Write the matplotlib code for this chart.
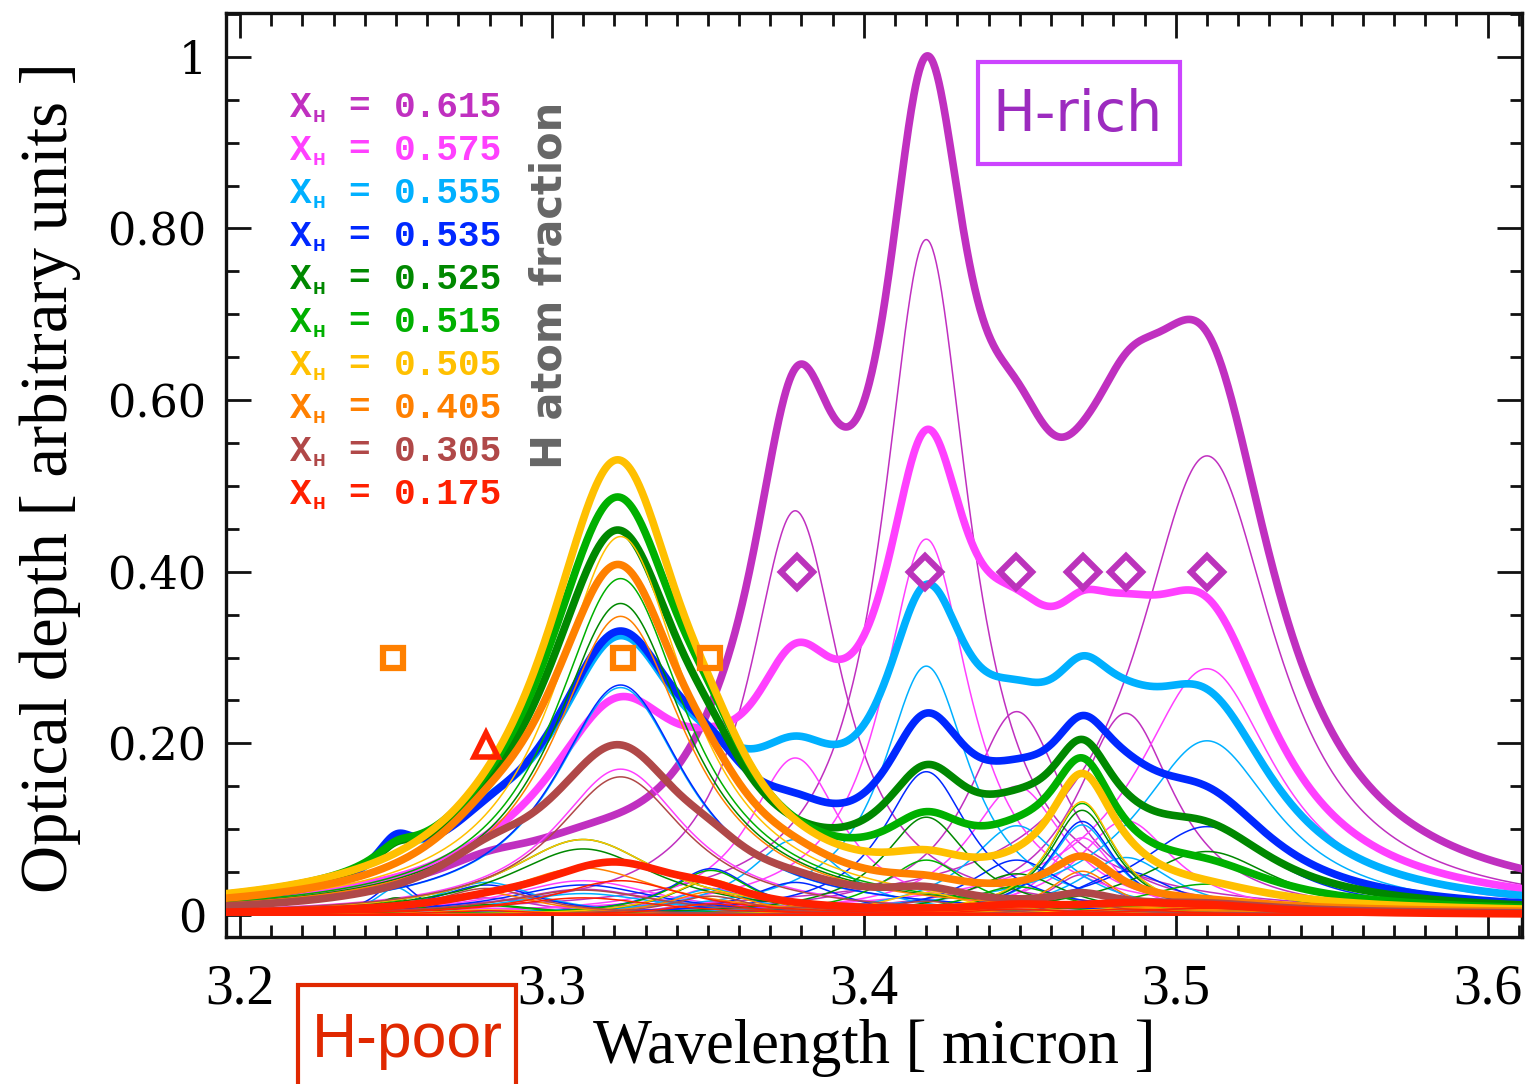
import numpy as np
import matplotlib
matplotlib.use("Agg")
import matplotlib.pyplot as plt
from matplotlib.patches import Rectangle
from matplotlib.ticker import MultipleLocator, FixedLocator, FixedFormatter

# band centres [micron] and half widths of the C-H stretch components
band_center = [3.250, 3.279, 3.310, 3.322, 3.351, 3.378, 3.420, 3.449, 3.470, 3.484, 3.510]
band_hwhm = [0.008, 0.020, 0.030, 0.026, 0.016, 0.018, 0.017, 0.019, 0.013, 0.019, 0.027]

# H atom fraction of each spectrum (legend order)
xh_labels = ["0.615", "0.575", "0.555", "0.535", "0.525", "0.515", "0.505", "0.405", "0.305", "0.175"]

# peak optical depth of every band, one list per spectrum
amp_615 = [0.000, 0.020, 0.030, 0.000, 0.015, 0.471, 0.787, 0.237, 0.047, 0.235, 0.535]
amp_575 = [0.000, 0.008, 0.040, 0.170, 0.031, 0.183, 0.438, 0.150, 0.090, 0.110, 0.287]
amp_555 = [0.032, 0.038, 0.025, 0.265, 0.030, 0.088, 0.290, 0.104, 0.105, 0.067, 0.203]
amp_535 = [0.039, 0.035, 0.035, 0.268, 0.054, 0.038, 0.167, 0.064, 0.109, 0.051, 0.103]
amp_525 = [0.020, 0.012, 0.077, 0.363, 0.040, 0.000, 0.114, 0.048, 0.122, 0.018, 0.074]
amp_515 = [0.017, 0.011, 0.088, 0.392, 0.052, 0.000, 0.064, 0.033, 0.130, 0.007, 0.036]
amp_505 = [0.000, 0.006, 0.088, 0.441, 0.041, 0.000, 0.026, 0.009, 0.132, 0.008, 0.013]
amp_405 = [0.000, 0.026, 0.055, 0.348, 0.027, 0.009, 0.012, 0.003, 0.051, 0.000, 0.005]
amp_305 = [0.000, 0.031, 0.029, 0.161, 0.022, 0.009, 0.016, 0.000, 0.015, 0.000, 0.008]
amp_175 = [0.000, 0.005, 0.020, 0.040, 0.013, 0.000, 0.000, 0.007, 0.000, 0.007, 0.008]
amplitudes = [amp_615, amp_575, amp_555, amp_535, amp_525, amp_515, amp_505, amp_405, amp_305, amp_175]

# band markers
square_x = [3.249, 3.3228, 3.3506]
square_y = [0.30, 0.30, 0.30]
triangle_x = [3.2788]
triangle_y = [0.198]
diamond_x = [3.3785, 3.4196, 3.4487, 3.4702, 3.484, 3.51]
diamond_y = [0.40, 0.40, 0.40, 0.40, 0.40, 0.40]

colors = ["#c030c0", "#ff40ff", "#00b0ff", "#0028ff", "#008800",
          "#00b000", "#ffc000", "#ff8000", "#b04848", "#ff2000"]


def lorentz(x, c, h):
    return 1.0 / (1.0 + ((x - c) / h) ** 2)


W, H = 1531, 1084
fig = plt.figure(figsize=(W / 100, H / 100), dpi=100)
ax = fig.add_axes([226 / W, 1 - 937 / H, (1522 - 226) / W, (937 - 13) / H])

x = np.linspace(3.19, 3.62, 1500)
c = np.array(band_center)
h = np.array(band_hwhm)
for i, (amp, col) in enumerate(zip(amplitudes, colors)):
    comps = np.array(amp)[None, :] * lorentz(x[:, None], c[None, :], h[None, :])
    for k in range(len(band_center)):
        if amp[k] > 0.004:
            ax.plot(x, comps[:, k], color=col, lw=1.1, zorder=2 + 2 * i)
    ax.plot(x, comps.sum(axis=1), color=col, lw=5.5, zorder=3 + 2 * i)

ax.plot(square_x, square_y, ls="none", marker="s", ms=14, mfc="none", mec="#ff8000", mew=4.5, zorder=40)
ax.plot(triangle_x, triangle_y, ls="none", marker="^", ms=17, mfc="none", mec="#ff2000", mew=4, zorder=40)
ax.plot(diamond_x, diamond_y, ls="none", marker="D", ms=16, mfc="none", mec="#bb33bb", mew=4.5, zorder=40)

ax.set_xlim(3.1955, 3.611)
ax.set_ylim(-0.0256, 1.051)
ax.xaxis.set_major_locator(FixedLocator([3.2, 3.3, 3.4, 3.5, 3.6]))
ax.xaxis.set_major_formatter(FixedFormatter(["3.2", "3.3", "3.4", "3.5", "3.6"]))
ax.xaxis.set_minor_locator(MultipleLocator(0.01))
ax.yaxis.set_major_locator(FixedLocator([0, 0.2, 0.4, 0.6, 0.8, 1.0]))
ax.yaxis.set_major_formatter(FixedFormatter(["0", "0.20", "0.40", "0.60", "0.80", "1"]))
ax.yaxis.set_minor_locator(MultipleLocator(0.05))
ax.tick_params(which="both", direction="in", top=True, right=True, width=2, color="#111111")
ax.tick_params(which="major", length=18)
ax.tick_params(which="minor", length=9)
ax.tick_params(axis="x", pad=19, labelsize=40)
ax.tick_params(axis="y", pad=14, labelsize=32)
for lab in ax.get_xticklabels():
    lab.set_family("Liberation Serif")
for lab in ax.get_yticklabels():
    lab.set_family("DejaVu Serif")
for sp in ax.spines.values():
    sp.set_linewidth(2.4)
    sp.set_color("#111111")

fig.text(874 / W, 1 - 1048 / H, "Wavelength [ micron ]", family="Liberation Serif",
         fontsize=45, ha="center", va="center")
fig.text(50 / W, 1 - 478 / H, "Optical depth [ arbitrary units ]", family="Liberation Serif",
         fontsize=48, ha="center", va="center", rotation=90)

# legend: X_H = value
for i, (lab, col) in enumerate(zip(xh_labels, colors)):
    yb = 1 - (117 + 43 * i) / H
    fig.text(290 / W, yb, "X", family="Liberation Mono", weight="bold", fontsize=26, color=col, va="baseline")
    fig.text(313 / W, 1 - (122 + 43 * i) / H, "H", family="DejaVu Sans", weight="bold", fontsize=11,
             color=col, va="baseline")
    fig.text(348 / W, yb, "=", family="Liberation Mono", weight="bold", fontsize=26, color=col, va="baseline")
    fig.text(394 / W, yb, lab, family="Liberation Mono", weight="bold", fontsize=26, color=col, va="baseline")

fig.text(549 / W, 1 - 285 / H, "H atom fraction", family="DejaVu Sans", weight="bold",
         fontsize=30, color="#666666", rotation=90, ha="center", va="center")

fig.patches.append(Rectangle((978 / W, 1 - 164 / H), 202 / W, 102 / H, transform=fig.transFigure,
                             fill=False, ec="#cc44ff", lw=3, zorder=50))
fig.text(1078 / W, 1 - 115 / H, "H-rich", family="DejaVu Sans", fontsize=41,
         color="#9c2bbf", ha="center", va="center", zorder=51)
fig.patches.append(Rectangle((298 / W, -0.02), 218 / W, 0.02 + 1 - 985 / H, transform=fig.transFigure,
                             fill=False, ec="#e02800", lw=3))
fig.text(407 / W, 1 - 1040 / H, "H-poor", family="Liberation Sans", fontsize=45,
         color="#e02800", ha="center", va="center")

fig.savefig("out.png", dpi=100)
